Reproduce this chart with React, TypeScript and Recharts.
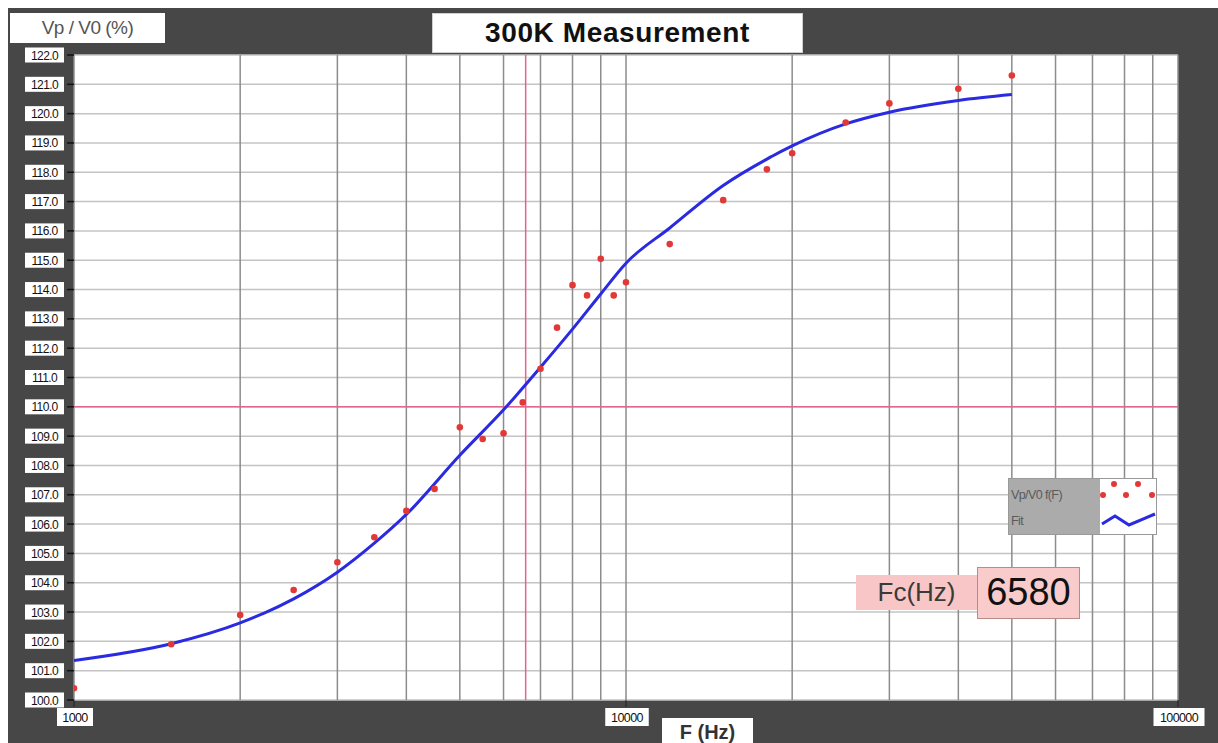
import React from 'react';
import {
  ComposedChart,
  Scatter,
  Line,
  XAxis,
  YAxis,
  CartesianGrid,
  ReferenceLine,
} from 'recharts';

// Measured points: frequency (Hz) and Vp/V0 (%)
const measuredF = [1000, 1500, 2000, 2500, 3000, 3500, 4000, 4500, 5000, 5500, 6000, 6500, 7000, 7500, 8000, 8500, 9000, 9500, 10000, 12000, 15000, 18000, 20000, 25000, 30000, 40000, 50000];
const measuredV = [100.4, 101.9, 102.9, 103.75, 104.7, 105.55, 106.45, 107.2, 109.3, 108.9, 109.1, 110.15, 111.3, 112.7, 114.15, 113.8, 115.05, 113.8, 114.25, 115.55, 117.05, 118.1, 118.65, 119.7, 120.35, 120.85, 121.3];

// Fit curve
const fitF = [1000, 1500, 2000, 2500, 3000, 3500, 4000, 5000, 6000, 7000, 8000, 9000, 10000, 12000, 15000, 18000, 20000, 25000, 30000, 40000, 50000];
const fitV = [101.35, 101.92, 102.63, 103.45, 104.36, 105.35, 106.33, 108.35, 109.9, 111.35, 112.65, 113.85, 114.9, 116.1, 117.55, 118.45, 118.9, 119.65, 120.05, 120.45, 120.65];

const xTicks = [1000, 2000, 3000, 4000, 5000, 6000, 7000, 8000, 9000, 10000, 20000, 30000, 40000, 50000, 60000, 70000, 80000, 90000, 100000];
const xLabels = [1000, 10000, 100000];
const yTicks = [100, 101, 102, 103, 104, 105, 106, 107, 108, 109, 110, 111, 112, 113, 114, 115, 116, 117, 118, 119, 120, 121, 122];

const fcValue = 6580;
const refLevel = 110;

const points = measuredF.map((x, i) => ({ x, y: measuredV[i] }));
const fit = fitF.map((x, i) => ({ x, y: fitV[i] }));

const FONT = '"Liberation Sans", Arial, sans-serif';

const YTick = (props: any) => {
  const { y, payload } = props;
  return (
    <g>
      <rect x={17} y={y - 7.5} width={39} height={15} fill="#fff" />
      <text x={36.5} y={y + 4.5} textAnchor="middle" fontSize={12} fontFamily={FONT} fill="#111" letterSpacing={-0.6}>
        {Number(payload.value).toFixed(1)}
      </text>
    </g>
  );
};

const XTick = (props: any) => {
  const { x, payload } = props;
  const v = payload.value;
  if (!xLabels.includes(v)) return <g />;
  const label = String(v);
  const w = label.length * 7.5 + 6;
  const cy = 709;
  return (
    <g>
      <line x1={x} x2={x} y1={692} y2={699} stroke="#222" strokeWidth={1} />
      <rect x={x - w / 2 + 1} y={cy - 9} width={w} height={18} fill="#fff" />
      <text x={x + 1} y={cy + 4.5} textAnchor="middle" fontSize={12.5} fontFamily={FONT} fill="#111" letterSpacing={-0.6}>
        {label}
      </text>
    </g>
  );
};

const Dot = (props: any) => {
  const { cx, cy } = props;
  return <circle cx={cx} cy={cy} r={3.3} fill="#e23838" />;
};

export default function App() {
  return (
    <div
      style={{
        position: 'fixed',
        left: 8,
        top: 8,
        width: 1210,
        height: 735,
        background: '#474747',
        fontFamily: FONT,
      }}
    >
      <ComposedChart
        width={1210}
        height={735}
        margin={{ top: 47, right: 40, left: 8, bottom: 13 }}
      >
        <CartesianGrid horizontal={true} vertical={false} stroke="#c4c4c4" fill="#ffffff" strokeWidth={1.5} />
        <CartesianGrid horizontal={false} vertical={true} stroke="#8c8c8c" strokeWidth={1.5} />
        <XAxis
          type="number"
          dataKey="x"
          scale="log"
          domain={[1000, 100000]}
          ticks={xTicks}
          tick={<XTick />}
          tickLine={false}
          axisLine={false}
          height={30}
          allowDataOverflow
          interval={0}
        />
        <YAxis
          type="number"
          dataKey="y"
          domain={[100, 122]}
          ticks={yTicks}
          tick={<YTick />}
          tickLine={{ stroke: '#111', strokeWidth: 1.5 }}
          tickSize={7}
          axisLine={false}
          width={58}
          interval={0}
          allowDataOverflow
        />
        <ReferenceLine x={fcValue} stroke="#e0668c" strokeWidth={1.5} />
        <ReferenceLine y={refLevel} stroke="#e0668c" strokeWidth={1.5} />
        <Line
          data={fit}
          dataKey="y"
          type="monotone"
          stroke="#2a2ae0"
          strokeWidth={3}
          dot={false}
          isAnimationActive={false}
        />
        <Scatter data={points} dataKey="y" shape={<Dot />} isAnimationActive={false} />
      </ComposedChart>

      {/* Y axis title */}
      <div
        style={{
          position: 'absolute',
          left: 2,
          top: 5,
          width: 155,
          height: 30,
          background: '#fff',
          color: '#555',
          fontSize: 19,
          lineHeight: '30px',
          textAlign: 'center',
          letterSpacing: -0.5,
        }}
      >
        Vp / V0 (%)
      </div>

      {/* Title */}
      <div
        style={{
          position: 'absolute',
          left: 424,
          top: 5,
          width: 371,
          height: 40,
          background: '#fff',
          border: '1px solid #cfcfcf',
          boxSizing: 'border-box',
          color: '#111',
          fontSize: 28,
          fontWeight: 'bold',
          lineHeight: '38px',
          textAlign: 'center',
          letterSpacing: 0.6,
        }}
      >
        300K Measurement
      </div>

      {/* X axis title */}
      <div
        style={{
          position: 'absolute',
          left: 654,
          top: 710,
          width: 91,
          height: 30,
          background: '#fff',
          color: '#333',
          fontSize: 20,
          fontWeight: 600,
          lineHeight: '28px',
          textAlign: 'center',
        }}
      >
        F (Hz)
      </div>

      {/* Legend */}
      <div
        style={{
          position: 'absolute',
          left: 1000,
          top: 470,
          width: 149,
          height: 57,
          border: '1px solid #999',
          boxSizing: 'border-box',
          display: 'flex',
        }}
      >
        <div
          style={{
            width: 92,
            height: '100%',
            background: '#ababab',
            color: '#5a5a5a',
            fontSize: 12.5,
            letterSpacing: -0.6,
            paddingLeft: 2,
            boxSizing: 'border-box',
          }}
        >
          <div style={{ position: 'absolute', top: 9 }}>Vp/V0 f(F)</div>
          <div style={{ position: 'absolute', top: 35 }}>Fit</div>
        </div>
        <svg width={56} height={55} style={{ background: '#fff', display: 'block' }}>
          <circle cx={3} cy={16} r={3} fill="#e23838" />
          <circle cx={14} cy={5} r={3} fill="#e23838" />
          <circle cx={26} cy={16} r={3} fill="#e23838" />
          <circle cx={38} cy={5} r={3} fill="#e23838" />
          <circle cx={52} cy={16} r={3} fill="#e23838" />
          <polyline points="2,45 15,37 29,46 55,35" fill="none" stroke="#2a2ae0" strokeWidth={3} />
        </svg>
      </div>

      {/* Fc box */}
      <div
        style={{
          position: 'absolute',
          left: 848,
          top: 567,
          width: 121,
          height: 35,
          background: '#f8c6c6',
          color: '#3a3a3a',
          fontSize: 26,
          lineHeight: '35px',
          textAlign: 'center',
        }}
      >
        Fc(Hz)
      </div>
      <div
        style={{
          position: 'absolute',
          left: 969,
          top: 559,
          width: 103,
          height: 52,
          background: '#f9cbcb',
          border: '1.5px solid #b88a8a',
          boxSizing: 'border-box',
          color: '#111',
          fontSize: 38,
          lineHeight: '48px',
          textAlign: 'center',
        }}
      >
        6580
      </div>
    </div>
  );
}
